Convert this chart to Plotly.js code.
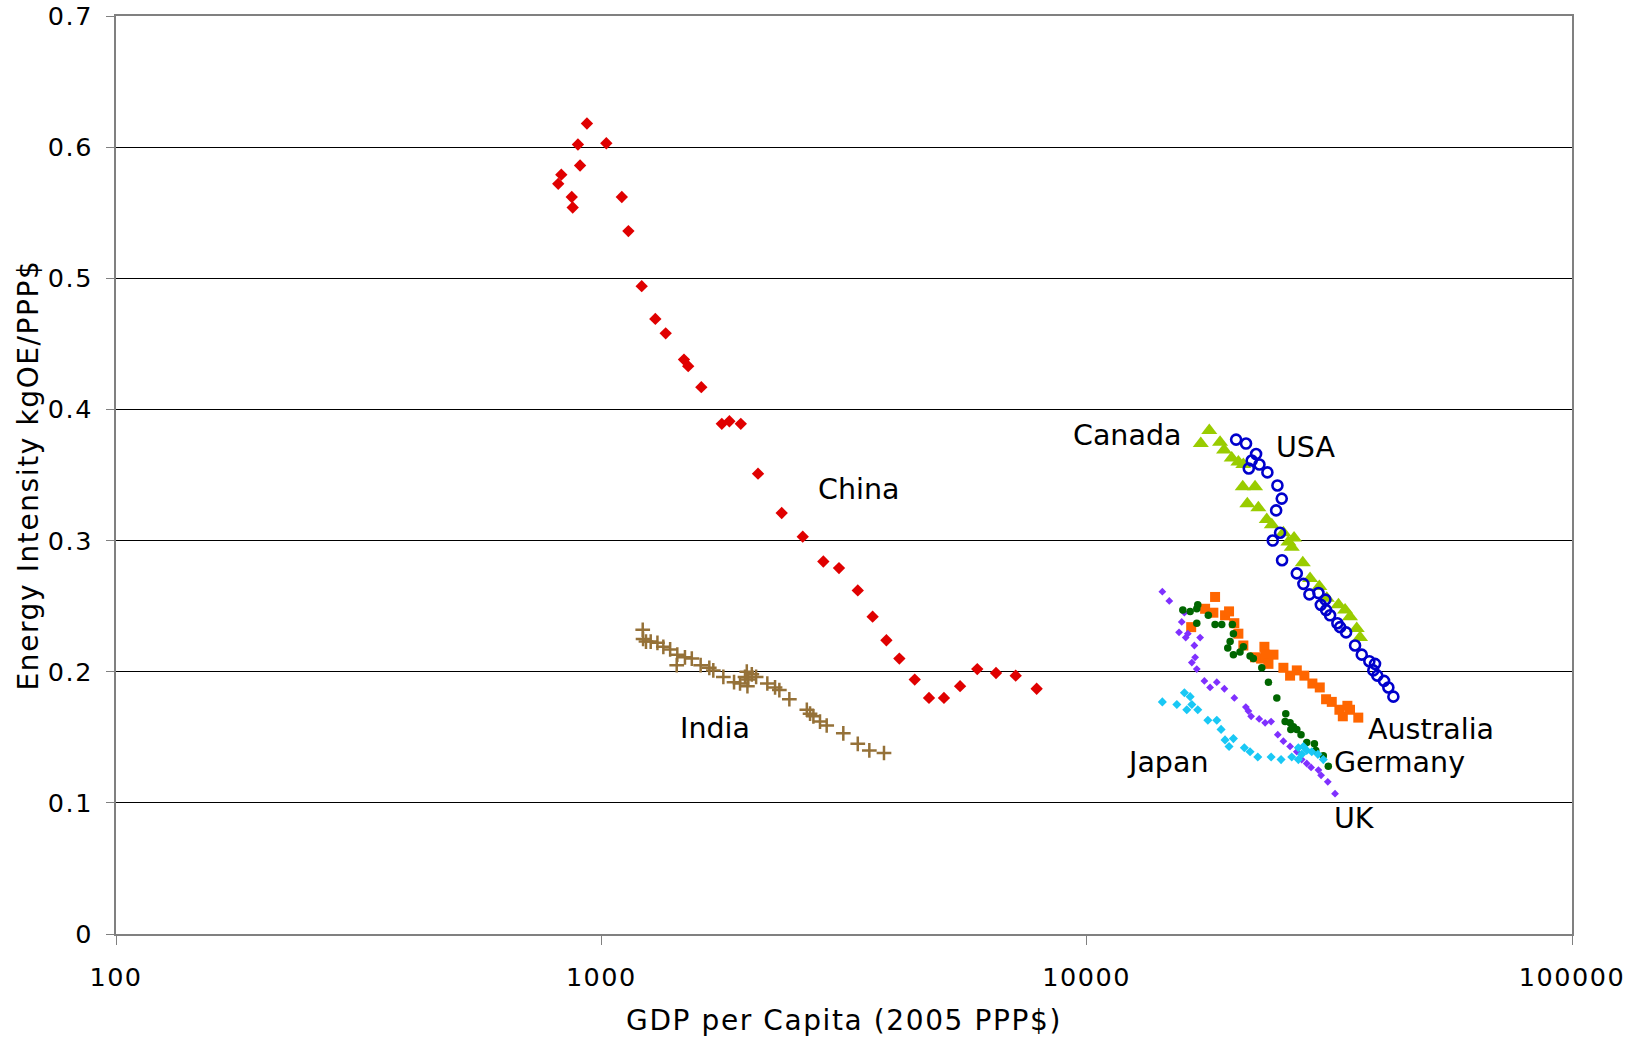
<!DOCTYPE html>
<html>
<head>
<meta charset="utf-8">
<script src="https://cdn.plot.ly/plotly-3.0.1.min.js"></script>
<style>
  html, body { margin: 0; padding: 0; background: #ffffff; }
  #chart { width: 1638px; height: 1037px; }
  #chart .xtitle, #chart .ytitle { letter-spacing: 1.6px; }
  #chart .xtick text, #chart .ytick text { letter-spacing: 1.5px; }
</style>
</head>
<body>
<div id="chart"></div>
<script>
// ---- Data (GDP per capita in 2005 PPP$, energy intensity kgOE/PPP$) ----
const chinaX = [815, 827, 869, 873, 895, 904, 934, 1024, 1102, 1137, 1211, 1292, 1357, 1480, 1510, 1607, 1771, 1836, 1938, 2103, 2353, 2600, 2867, 3088, 3376, 3622, 3867, 4112, 4423, 4733, 5081, 5485, 5951, 6505, 7141, 7888];
const chinaY = [0.572, 0.579, 0.562, 0.554, 0.602, 0.586, 0.618, 0.603, 0.562, 0.536, 0.494, 0.469, 0.458, 0.438, 0.433, 0.417, 0.389, 0.391, 0.389, 0.351, 0.321, 0.303, 0.284, 0.279, 0.262, 0.242, 0.224, 0.210, 0.194, 0.180, 0.180, 0.189, 0.202, 0.199, 0.197, 0.187];

const indiaX = [1217, 1219, 1236, 1264, 1305, 1342, 1386, 1434, 1430, 1487, 1536, 1602, 1669, 1701, 1784, 1877, 1931, 1977, 1994, 2009, 2000, 2042, 2084, 2198, 2280, 2327, 2440, 2651, 2692, 2735, 2822, 2913, 3152, 3376, 3566, 3823];
const indiaY = [0.232, 0.225, 0.223, 0.223, 0.222, 0.219, 0.217, 0.213, 0.205, 0.211, 0.210, 0.205, 0.203, 0.201, 0.196, 0.192, 0.191, 0.196, 0.200, 0.194, 0.189, 0.198, 0.196, 0.191, 0.188, 0.186, 0.179, 0.171, 0.168, 0.166, 0.162, 0.159, 0.153, 0.145, 0.140, 0.138];

const canadaX = [17184, 17891, 18830, 19190, 19900, 20540, 21030, 20970, 22230, 21430, 22580, 23500, 24070, 25430, 26040, 26460, 26750, 27880, 28860, 30160, 31240, 33020, 34080, 34880, 36010, 36580];
const canadaY = [0.374, 0.384, 0.375, 0.369, 0.363, 0.360, 0.358, 0.341, 0.341, 0.328, 0.325, 0.316, 0.312, 0.306, 0.299, 0.295, 0.302, 0.283, 0.271, 0.265, 0.256, 0.251, 0.247, 0.242, 0.233, 0.226];

const usaX = [20320, 21300, 22340, 21880, 22700, 21580, 23570, 24720, 25230, 24570, 25030, 24180, 25270, 27100, 27960, 28770, 30030, 30370, 31040, 31140, 31740, 32850, 33280, 34240, 35730, 36880, 38230, 39280, 38960, 39710, 41000, 41840, 42850];
const usaY = [0.377, 0.374, 0.366, 0.361, 0.358, 0.355, 0.352, 0.342, 0.332, 0.323, 0.306, 0.300, 0.285, 0.275, 0.267, 0.259, 0.260, 0.251, 0.255, 0.247, 0.243, 0.237, 0.234, 0.230, 0.220, 0.213, 0.208, 0.206, 0.201, 0.197, 0.193, 0.188, 0.181];

const australiaX = [16420, 17540, 18240, 18390, 19280, 19650, 20150, 20540, 21030, 22230, 22880, 23240, 23320, 23690, 24260, 25430, 26250, 27100, 28090, 29180, 30220, 31140, 31990, 33170, 33710, 34450, 34880, 36280];
const australiaY = [0.234, 0.248, 0.245, 0.257, 0.243, 0.246, 0.237, 0.229, 0.220, 0.211, 0.210, 0.219, 0.213, 0.206, 0.213, 0.203, 0.197, 0.201, 0.197, 0.191, 0.188, 0.179, 0.177, 0.171, 0.166, 0.174, 0.171, 0.165];

const ukX = [14320, 14800, 15900, 15700, 15500, 16160, 16000, 17130, 16670, 16730, 16470, 16860, 17480, 17960, 18540, 19220, 20150, 21280, 21540, 21820, 22670, 23320, 23990, 24760, 25430, 26250, 27100, 27740, 28410, 29000, 30030, 30410, 31390, 32490];
const ukY = [0.261, 0.254, 0.245, 0.238, 0.230, 0.229, 0.226, 0.226, 0.220, 0.211, 0.207, 0.202, 0.193, 0.188, 0.192, 0.187, 0.180, 0.173, 0.170, 0.166, 0.164, 0.161, 0.162, 0.152, 0.147, 0.143, 0.139, 0.133, 0.130, 0.127, 0.125, 0.121, 0.116, 0.107];

const germanyX = [15780, 16340, 16860, 16940, 17810, 16860, 18390, 18980, 19960, 20060, 19750, 19530, 20060, 20700, 21030, 21710, 22050, 22950, 23690, 24650, 25720, 25640, 26250, 26660, 27100, 26340, 27650, 28410, 29460, 29650, 30730, 31470];
const germanyY = [0.247, 0.246, 0.248, 0.251, 0.243, 0.237, 0.236, 0.236, 0.236, 0.229, 0.223, 0.218, 0.213, 0.215, 0.219, 0.212, 0.210, 0.203, 0.192, 0.180, 0.168, 0.162, 0.161, 0.158, 0.156, 0.156, 0.152, 0.146, 0.145, 0.140, 0.136, 0.128];

const japanX = [14320, 15340, 15900, 16340, 16470, 16080, 16940, 17770, 18540, 18920, 19280, 20060, 19650, 21130, 21710, 22520, 23990, 25150, 26460, 27300, 27300, 27960, 28410, 29090, 29950, 30730, 27740];
const japanY = [0.177, 0.175, 0.184, 0.181, 0.175, 0.171, 0.171, 0.163, 0.163, 0.156, 0.148, 0.149, 0.143, 0.142, 0.139, 0.135, 0.135, 0.133, 0.135, 0.133, 0.142, 0.143, 0.140, 0.139, 0.137, 0.133, 0.137];

// ---- Country labels ----
const labelText = ["China", "India", "Canada", "USA", "Australia", "Germany", "Japan", "UK"];
const labelX = [3388, 1712, 12120, 28290, 51270, 44200, 14710, 35550];
const labelY = [0.339, 0.157, 0.380, 0.371, 0.156, 0.131, 0.131, 0.088];

// ---- Axis ticks ----
const xTickVals = [100, 1000, 10000, 100000];
const xTickText = ["100", "1000", "10000", "100000"];
const yTickVals = [0, 0.1, 0.2, 0.3, 0.4, 0.5, 0.6, 0.7];

const FONT = "DejaVu Sans, Verdana, sans-serif";

function tr(name, x, y, marker) {
  return { type: "scatter", mode: "markers", name: name, x: x, y: y,
           marker: marker, hoverinfo: "x+y+name" };
}

const traces = [
  tr("China", chinaX, chinaY, { symbol: "diamond", size: 9.5, color: "#E00000" }),
  tr("India", indiaX, indiaY, { symbol: "cross-thin-open", size: 10.5, color: "#957138", line: { color: "#957138", width: 2.5 } }),
  tr("Canada", canadaX, canadaY, { symbol: "triangle-up", size: 14, color: "#99CC00" }),
  tr("USA", usaX, usaY, { symbol: "circle-open", size: 10, color: "#0000CC", line: { color: "#0000CC", width: 2.6 } }),
  tr("Australia", australiaX, australiaY, { symbol: "square", size: 10, color: "#FF6600" }),
  tr("UK", ukX, ukY, { symbol: "diamond", size: 6, color: "#7F30FF" }),
  tr("Germany", germanyX, germanyY, { symbol: "circle", size: 7.5, color: "#006600" }),
  tr("Japan", japanX, japanY, { symbol: "diamond", size: 7, color: "#19C8F5" })
];

const annotations = labelText.map(function (t, i) {
  return { text: t, x: Math.log10(labelX[i]), y: labelY[i], xref: "x", yref: "y",
           showarrow: false, xanchor: "center", yanchor: "middle",
           font: { family: FONT, size: 28.5, color: "#000000" } };
});

const layout = {
  width: 1638, height: 1037,
  margin: { l: 116, r: 66, t: 16, b: 103, pad: 0 },
  paper_bgcolor: "#ffffff", plot_bgcolor: "#ffffff",
  showlegend: false,
  font: { family: FONT, size: 25, color: "#000000" },
  xaxis: {
    type: "log", range: [2, 5],
    tickvals: xTickVals, ticktext: xTickText,
    ticks: "outside", ticklen: 9, tickcolor: "#808080", tickwidth: 1,
    ticklabelstandoff: 10,
    showgrid: false, zeroline: false,
    showline: true, linecolor: "#808080", linewidth: 2, mirror: true,
    tickfont: { family: FONT, size: 25.5, color: "#000000" },
    title: { text: "GDP per Capita (2005 PPP$)", standoff: 20,
             font: { family: FONT, size: 28, color: "#000000" } }
  },
  yaxis: {
    range: [0, 0.7], tickvals: yTickVals,
    ticks: "outside", ticklen: 8, tickcolor: "#808080", tickwidth: 1,
    ticklabelstandoff: 8,
    showgrid: true, gridcolor: "#000000", gridwidth: 1,
    zeroline: false,
    showline: true, linecolor: "#808080", linewidth: 2, mirror: true,
    tickfont: { family: FONT, size: 25.5, color: "#000000" },
    title: { text: "Energy Intensity kgOE/PPP$", standoff: 6,
             font: { family: FONT, size: 28, color: "#000000" } }
  },
  annotations: annotations
};

Plotly.newPlot("chart", traces, layout, { displayModeBar: false, staticPlot: true });
</script>
</body>
</html>
